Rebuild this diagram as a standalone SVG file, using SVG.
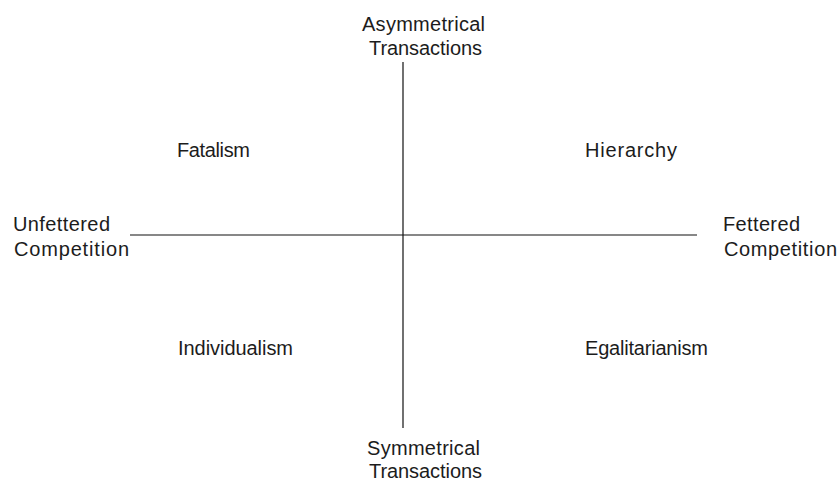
<svg xmlns="http://www.w3.org/2000/svg" width="839" height="482" viewBox="0 0 839 482">
  <style>
    .lbl { font-family: "Liberation Sans", Arial, sans-serif; font-size: 20px; fill: #1c1c1c; }
    .axis { stroke: #111; stroke-width: 1.2; fill: none; }
  </style>
  <rect width="839" height="482" fill="#fff"/>
  <g id="connectors">
    <line class="axis" x1="403" y1="62" x2="403" y2="428"/>
    <line class="axis" x1="130" y1="235" x2="697" y2="235"/>
  </g>
  <g id="asymmetrical">
    <text class="lbl" x="362" y="31" textLength="123">Asymmetrical</text>
    <text class="lbl" x="369" y="55" textLength="113">Transactions</text>
  </g>
  <g id="symmetrical">
    <text class="lbl" x="367" y="455" textLength="113">Symmetrical</text>
    <text class="lbl" x="369" y="478" textLength="113">Transactions</text>
  </g>
  <g id="unfettered">
    <text class="lbl" x="13" y="231" textLength="97">Unfettered</text>
    <text class="lbl" x="14" y="256" textLength="115">Competition</text>
  </g>
  <g id="fettered">
    <text class="lbl" x="723" y="231" textLength="77">Fettered</text>
    <text class="lbl" x="724" y="256" textLength="113">Competition</text>
  </g>
  <g id="fatalism"><text class="lbl" x="177" y="157" textLength="73">Fatalism</text></g>
  <g id="hierarchy"><text class="lbl" x="585" y="157" textLength="92">Hierarchy</text></g>
  <g id="individualism"><text class="lbl" x="178" y="355" textLength="115">Individualism</text></g>
  <g id="egalitarianism"><text class="lbl" x="585" y="355" textLength="123">Egalitarianism</text></g>
</svg>
